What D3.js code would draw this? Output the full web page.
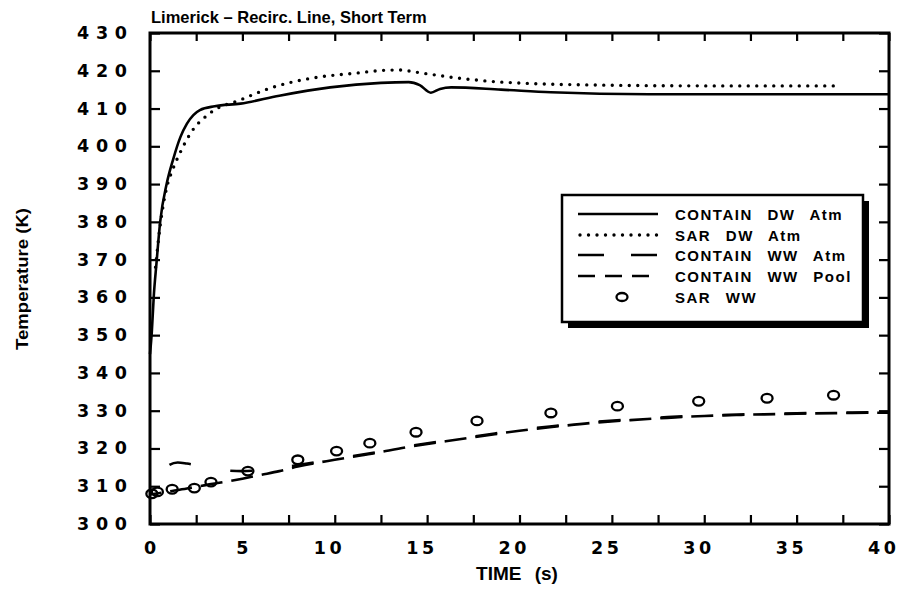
<!DOCTYPE html>
<html>
<head>
<meta charset="utf-8">
<script src="https://cdn.jsdelivr.net/npm/d3@7"></script>
<style>
body { margin: 0; background: #fff; }
text { font-family: "Liberation Sans", Arial, sans-serif; font-weight: bold; fill: #000; }
.num { font-family: "DejaVu Sans", sans-serif; }
</style>
</head>
<body>
<div id="chart"></div>
<script>
// data
var dwAtmT = [0, 0.1, 0.2, 0.35, 0.55, 0.9, 1.25, 1.65, 2.0, 2.7, 3.5, 4.9, 7, 9.75, 12.5, 14, 14.6, 15.2, 15.7, 16.3, 19, 21.7, 27, 40];
var dwAtm  = [345, 351, 360, 369, 380, 390, 396.5, 402.5, 406, 409.6, 410.6, 411.3, 413.4, 415.6, 416.8, 417, 416.2, 414.2, 415.2, 415.6, 415, 414.3, 413.8, 413.8];

var sarDwT = [0.3, 0.55, 0.9, 1.2, 1.6, 2.2, 3.25, 4.9, 6.5, 8.7, 11.2, 12.6, 13.6, 14.3, 16.3, 19, 24.4, 30, 37];
var sarDw  = [368, 379, 389, 393.5, 398, 403.5, 408.8, 412.3, 415.4, 418, 419.4, 420.1, 420.2, 419.7, 418.3, 417, 416.2, 416, 416];

var wwAtmT = [0, 0.5, 1.0, 1.5, 2.0, 3, 4, 5, 6, 7, 8, 10, 12, 14, 16, 18, 20, 22, 24, 26, 28, 30, 32, 34, 36, 38, 40];
var wwAtm  = [308, 312, 315.5, 316.3, 316, 315, 314.2, 314, 314.3, 314.8, 315.6, 317.2, 318.8, 320.6, 322.1, 323.5, 324.9, 326, 327, 327.7, 328.3, 328.7, 329, 329.2, 329.4, 329.5, 329.6];

var wwPoolT = [0, 1, 2, 3, 4, 5, 6, 7, 8, 10, 12, 14, 16, 18, 20, 22, 24, 26, 28, 30, 32, 34, 36, 38, 40];
var wwPool  = [307.8, 308.6, 309.4, 310.3, 311.1, 312, 313, 314, 315.2, 317, 318.6, 320.4, 321.9, 323.3, 324.7, 325.8, 326.8, 327.5, 328.1, 328.6, 328.9, 329.1, 329.3, 329.4, 329.5];

var sarWwT = [0.1, 0.4, 1.2, 2.4, 3.3, 5.3, 8.0, 10.1, 11.9, 14.4, 17.7, 21.7, 25.3, 29.7, 33.4, 37.0];
var sarWw  = [308, 308.5, 309.2, 309.5, 311.1, 314, 317, 319.3, 321.4, 324.3, 327.3, 329.4, 331.2, 332.5, 333.3, 334.1];

var xLabels = [0, 5, 10, 15, 20, 25, 30, 35, 40];
var yLabels = [300, 310, 320, 330, 340, 350, 360, 370, 380, 390, 400, 410, 420, 430];
var legendNames = ["CONTAIN DW Atm", "SAR DW Atm", "CONTAIN WW Atm", "CONTAIN WW Pool", "SAR WW"];

var W = 900, H = 597;
var pLeft = 150, pRight = 889, pTop = 33, pBottom = 524;

var svg = d3.select("#chart").append("svg")
    .attr("width", W).attr("height", H);

var x = d3.scaleLinear().domain([0, 40]).range([pLeft, pRight]);
var y = d3.scaleLinear().domain([300, 430]).range([pBottom, pTop]);

// ticks, all pointing inward
var xTicks = d3.range(0, 40.01, 2.5);
svg.append("g").call(d3.axisBottom(x).tickValues(xTicks).tickSize(-9).tickFormat(""))
    .attr("transform", "translate(0," + pBottom + ")");
svg.append("g").call(d3.axisTop(x).tickValues(xTicks).tickSize(-8).tickFormat(""))
    .attr("transform", "translate(0," + pTop + ")");
svg.append("g").call(d3.axisLeft(y).tickValues(yLabels).tickSize(-10).tickFormat(""))
    .attr("transform", "translate(" + pLeft + ",0)");
svg.append("g").call(d3.axisRight(y).tickValues(yLabels).tickSize(-10).tickFormat(""))
    .attr("transform", "translate(" + pRight + ",0)");
svg.selectAll(".domain").remove();
svg.selectAll(".tick line").attr("stroke", "#000").attr("stroke-width", 2.2);

// frame
svg.append("rect")
    .attr("x", pLeft).attr("y", pTop)
    .attr("width", pRight - pLeft).attr("height", pBottom - pTop)
    .attr("fill", "none").attr("stroke", "#000").attr("stroke-width", 3);

// tick labels (spaced digits)
svg.selectAll(".xl").data(xLabels).enter().append("text")
    .attr("class", "num")
    .attr("x", d => d < 10 ? x(d) : x(d) - 7)
    .attr("y", pBottom + 30)
    .attr("text-anchor", "middle")
    .style("font-size", "17.5px")
    .each(function(d) { if (d >= 10) d3.select(this).attr("textLength", 28).attr("lengthAdjust", "spacing"); })
    .text(d => d);

svg.selectAll(".yl").data(yLabels).enter().append("text")
    .attr("class", "num")
    .attr("x", pLeft - 48)
    .attr("y", d => y(d) + 6)
    .attr("text-anchor", "middle")
    .style("font-size", "17.5px")
    .attr("textLength", 50)
    .attr("lengthAdjust", "spacing")
    .text(d => d);

// titles
svg.append("text")
    .attr("x", pLeft + 1).attr("y", 23)
    .style("font-size", "16.5px")
    .text("Limerick – Recirc. Line, Short Term");

svg.append("text")
    .attr("transform", "translate(28,279) rotate(-90)")
    .attr("text-anchor", "middle")
    .style("font-size", "16px")
    .attr("textLength", 142)
    .attr("lengthAdjust", "spacingAndGlyphs")
    .text("Temperature (K)");

svg.append("text")
    .attr("x", 517).attr("y", 580)
    .attr("text-anchor", "middle")
    .style("font-size", "19px")
    .style("word-spacing", "8px")
    .text("TIME (s)");

// curves
function curve(ts, vs) {
    return d3.line().x(i => x(ts[i])).y(i => y(vs[i])).curve(d3.curveMonotoneX)(d3.range(ts.length));
}

// path length up to a given x position (binary search)
function lengthAtX(node, px) {
    var lo = 0, hi = node.getTotalLength();
    for (var k = 0; k < 40; k++) {
        var mid = (lo + hi) / 2;
        if (node.getPointAtLength(mid).x < px) lo = mid; else hi = mid;
    }
    return lo;
}

var plot = svg.append("g");
plot.append("path").attr("d", curve(dwAtmT, dwAtm))
    .attr("fill", "none").attr("stroke", "#000").attr("stroke-width", 2.6);
plot.append("path").attr("d", curve(sarDwT, sarDw))
    .attr("fill", "none").attr("stroke", "#000").attr("stroke-width", 3.4)
    .attr("stroke-dasharray", "0 8.5").attr("stroke-linecap", "round");
var atmOff = 27;
var atmPath = plot.append("path").attr("d", curve(wwAtmT, wwAtm))
    .attr("fill", "none").attr("stroke", "#000").attr("stroke-width", 2.6)
    .attr("stroke-dasharray", "22 40").attr("stroke-dashoffset", atmOff);
var poolPath = plot.append("path").attr("d", curve(wwPoolT, wwPool))
    .attr("fill", "none").attr("stroke", "#000").attr("stroke-width", 2.6)
    .attr("stroke-dasharray", "22 9");

// line the two WW dash patterns up where the curves merge
var sP = lengthAtX(poolPath.node(), x(8));
var sA = lengthAtX(atmPath.node(), x(8));
poolPath.attr("stroke-dashoffset", (((sA + atmOff - sP) % 31) + 31) % 31);

plot.selectAll("ellipse").data(d3.range(sarWwT.length)).enter().append("ellipse")
    .attr("cx", i => x(sarWwT[i]))
    .attr("cy", i => y(sarWw[i]))
    .attr("rx", 5.5).attr("ry", 4.3)
    .attr("fill", "none").attr("stroke", "#000").attr("stroke-width", 2.3);

// legend with drop shadow
var lg = svg.append("g");
lg.append("rect").attr("x", 568).attr("y", 201).attr("width", 301).attr("height", 127).attr("fill", "#000");
lg.append("rect").attr("x", 562).attr("y", 195).attr("width", 301).attr("height", 127)
    .attr("fill", "#fff").attr("stroke", "#000").attr("stroke-width", 2.5);

var rowY = [214, 235, 255, 276, 297];
var legendDash = [null, "0 8.5", "26 27", "17 10"];
legendNames.forEach(function(name, i) {
    if (i < 4) {
        var ln = lg.append("line")
            .attr("x1", i === 1 ? 580 : 578).attr("x2", 658)
            .attr("y1", rowY[i]).attr("y2", rowY[i])
            .attr("stroke", "#000").attr("stroke-width", i === 1 ? 3.4 : 2.6)
            .attr("stroke-linecap", i === 1 ? "round" : "butt");
        if (legendDash[i]) ln.attr("stroke-dasharray", legendDash[i]);
    } else {
        lg.append("ellipse").attr("cx", 622).attr("cy", rowY[i])
            .attr("rx", 5.5).attr("ry", 4)
            .attr("fill", "none").attr("stroke", "#000").attr("stroke-width", 2.3);
    }
    lg.append("text")
        .attr("x", 675).attr("y", rowY[i] + 5.5)
        .style("font-size", "15px")
        .style("letter-spacing", "1.5px")
        .style("word-spacing", "9px")
        .text(name);
});
</script>
</body>
</html>
